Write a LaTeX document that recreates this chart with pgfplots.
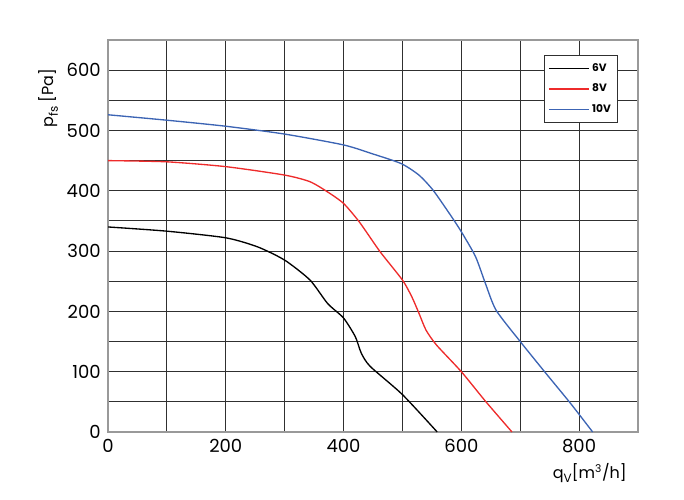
\documentclass[border=0pt]{standalone}
\usepackage{pgfplots}
\pgfplotsset{compat=1.18}
\usepackage{fontspec}
\setmainfont{Poppins}
\usetikzlibrary{calc}
\definecolor{cred}{HTML}{EE2B2B}
\definecolor{cblue}{HTML}{3C64B4}
\definecolor{gridc}{HTML}{303030}
\begin{document}
\begin{tikzpicture}
\begin{axis}[
  name=ax,
  scale only axis,
  width=397.5pt, height=294pt,
  xmin=0, xmax=900, ymin=0, ymax=650,
  xtick={0,200,400,600,800},
  minor xtick={100,300,500,700,900},
  ytick={0,100,200,300,400,500,600},
  minor ytick={50,150,250,350,450,550,650},
  grid=both,
  major grid style={gridc, line width=0.8pt},
  minor grid style={gridc, line width=0.8pt},
  axis line style={gray!80, line width=1pt},
  tick style={draw=none},
  tick label style={font=\fontsize{13.5}{15}\selectfont},
  /pgf/number format/assume math mode=true,
  xticklabel style={yshift=-2pt},
  yticklabel style={xshift=-2pt},
  legend style={at={(0.822,0.962)}, anchor=north west, draw=gridc, line width=0.8pt,
    font=\fontsize{8}{10}\selectfont\bfseries, row sep=4pt, inner xsep=3pt, inner ysep=4pt},
  legend cell align=left,
  legend image code/.code={\draw[#1, line width=1.1pt] (0cm,0cm) -- (1.05cm,0cm);},
]
\addplot[black, line width=1pt, smooth, tension=0.4] coordinates {
(0,340) (100,333) (200,322) (254,307) (300,285) (343,252) (373,213) (400,189)
(420,158) (430,131) (445,109) (500,62) (559,0)};
\addlegendentry{6V}
\addplot[cred, line width=1pt, smooth, tension=0.4] coordinates {
(0,450) (100,448) (200,440) (300,426) (343,415) (373,398) (400,379) (427,348)
(462,299) (500,252) (516,224) (528,197) (540,169) (558,144) (600,100) (641,51) (686,0)};
\addlegendentry{8V}
\addplot[cblue, line width=1pt, smooth, tension=0.4] coordinates {
(0,526) (100,517) (200,507) (300,494) (400,476) (450,461) (498,445) (528,426)
(552,401) (582,359) (600,332) (624,291) (641,246) (659,202) (700,150) (743,98) (785,48) (823,0)};
\addlegendentry{10V}
\end{axis}
\node[rotate=90, anchor=south east, font=\fontsize{12}{14}\selectfont] at ($(ax.north west)+(-34pt,-18pt)$) {p\raisebox{-3pt}{\fontsize{9}{10}\selectfont fs} [Pa]};
\node[anchor=north east, font=\fontsize{12}{14}\selectfont] at ($(ax.south east)+(-5pt,-20pt)$) {q\raisebox{-3pt}{\fontsize{9}{10}\selectfont V}[m\textsuperscript{3}/h]};
\path ($(ax.south west)+(-81pt,-50.25pt)$) rectangle ($(ax.north east)+(34.5pt,30pt)$);
\end{tikzpicture}
\end{document}
